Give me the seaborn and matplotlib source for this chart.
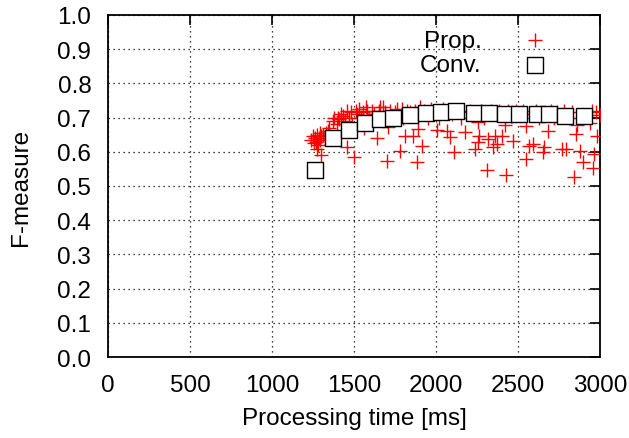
import numpy as np
import pandas as pd
import seaborn as sb
import matplotlib.pyplot as plt
from matplotlib.ticker import FormatStrFormatter

# Conv. (squares)
conv_x = [1265, 1370, 1468, 1565, 1659, 1740, 1841, 1939, 2032, 2122, 2232, 2321,
          2423, 2508, 2618, 2687, 2785, 2902]
conv_y = [0.548, 0.640, 0.665, 0.685, 0.695, 0.700, 0.708, 0.713, 0.716, 0.719, 0.713, 0.713,
          0.711, 0.711, 0.711, 0.710, 0.704, 0.706]

# Prop. (crosses)
prop_x = [1240, 1250, 1255, 1265, 1270, 1275, 1280, 1285, 1290, 1295, 1300, 1310, 1320, 1330,
          1273, 1297, 1340, 1350, 1370, 1380, 1395, 1400, 1410, 1420, 1430, 1445, 1456, 1460,
          1470, 1480, 1490, 1502, 1510, 1520, 1530, 1545, 1555, 1573, 1580, 1590, 1600, 1560,
          1610, 1620, 1638, 1650, 1660, 1679, 1690, 1700, 1709, 1720, 1735, 1750, 1765, 1780,
          1791, 1800, 1811, 1820, 1840, 1862, 1870, 1886, 1893, 1900, 1913, 1925, 1950, 1970,
          1990, 2008, 2020, 2040, 2065, 2085, 2095, 2110, 2130, 2150, 2177, 2190, 2210, 2238,
          2254, 2256, 2262, 2275, 2290, 2313, 2319, 2335, 2350, 2360, 2370, 2385, 2401, 2421,
          2427, 2440, 2455, 2472, 2490, 2515, 2530, 2549, 2549, 2569, 2580, 2593, 2610, 2630,
          2651, 2660, 2681, 2700, 2720, 2740, 2766, 2780, 2793, 2810, 2830, 2841, 2854, 2858,
          2878, 2898, 2919, 2939, 2950, 2959, 2963, 2984, 3000, 2975]
prop_y = [0.635, 0.645, 0.625, 0.640, 0.630, 0.648, 0.620, 0.640, 0.655, 0.635, 0.645, 0.650, 0.640, 0.655,
          0.608, 0.590, 0.660, 0.670, 0.690, 0.700, 0.680, 0.700, 0.695, 0.710, 0.705, 0.690, 0.613, 0.720,
          0.700, 0.715, 0.680, 0.586, 0.720, 0.710, 0.725, 0.700, 0.715, 0.731, 0.720, 0.700, 0.690, 0.670,
          0.720, 0.710, 0.640, 0.720, 0.730, 0.730, 0.715, 0.574, 0.672, 0.720, 0.700, 0.715, 0.725, 0.603,
          0.725, 0.700, 0.647, 0.720, 0.715, 0.647, 0.720, 0.569, 0.667, 0.730, 0.618, 0.720, 0.700, 0.725,
          0.720, 0.665, 0.700, 0.725, 0.662, 0.642, 0.710, 0.598, 0.720, 0.700, 0.657, 0.715, 0.720, 0.608,
          0.630, 0.686, 0.647, 0.720, 0.700, 0.547, 0.637, 0.720, 0.613, 0.647, 0.623, 0.720, 0.647, 0.677,
          0.532, 0.720, 0.705, 0.633, 0.720, 0.710, 0.720, 0.675, 0.579, 0.618, 0.710, 0.623, 0.720, 0.700,
          0.598, 0.613, 0.662, 0.720, 0.700, 0.715, 0.608, 0.720, 0.608, 0.700, 0.715, 0.525, 0.652, 0.677,
          0.603, 0.569, 0.708, 0.683, 0.720, 0.552, 0.593, 0.645, 0.708, 0.715]

sb.set_style("white")
plt.rcParams['font.family'] = ['Liberation Sans', 'DejaVu Sans']
plt.rcParams['text.color'] = 'black'
plt.rcParams['axes.labelcolor'] = 'black'
fs = 17.5

fig = plt.figure(figsize=(6.29, 4.39), dpi=100)
ax = fig.add_axes([0.1717, 0.1845, 0.7823, 0.7791])

sb.scatterplot(x=prop_x, y=prop_y, marker='+', color='red', s=90, linewidth=1.0,
               label='Prop.', ax=ax, zorder=3)
sb.scatterplot(x=conv_x, y=conv_y, marker='s', facecolor='white', edgecolor='black',
               s=120, linewidth=1.0, label='Conv.', ax=ax, zorder=4)

ax.set_xlim(0, 3000)
ax.set_ylim(0, 1.0)
ax.set_xticks(np.arange(0, 3001, 500))
ax.set_yticks(np.arange(0, 1.01, 0.1))
ax.yaxis.set_major_formatter(FormatStrFormatter('%.1f'))
ax.grid(True, color='black', linestyle=(0, (1, 3)), linewidth=0.9)
ax.set_axisbelow(True)
ax.tick_params(direction='in', top=True, right=True, length=7, width=1.2,
               labelsize=fs, colors='black', pad=12)
for s in ax.spines.values():
    s.set_visible(True)
    s.set_color('black')
    s.set_linewidth(1.3)
ax.set_xlabel('Processing time [ms]', fontsize=fs, labelpad=8, color='black')
ax.set_ylabel('F-measure', fontsize=fs, labelpad=18, color='black')
leg = ax.legend(loc='upper right', markerfirst=False, frameon=False, fontsize=fs,
                bbox_to_anchor=(0.937, 0.985), handletextpad=1.2, labelspacing=0.1,
                borderaxespad=0.0)
for t in leg.get_texts():
    t.set_color('black')

plt.savefig("out.png", dpi=100)
